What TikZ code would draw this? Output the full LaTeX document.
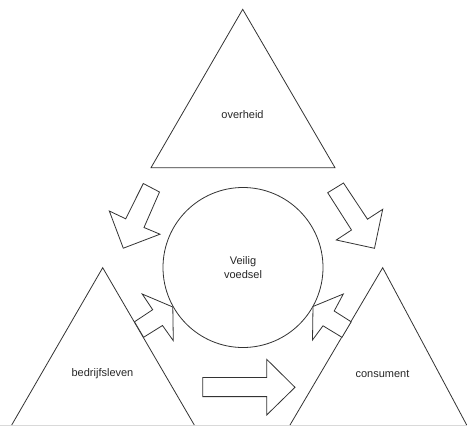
\documentclass[tikz,border=0pt]{standalone}
\usepackage{fontspec}
\setmainfont{Liberation Sans}
\begin{document}
\begin{tikzpicture}[x=1pt,y=-1pt,
  shape line/.style={draw=black!80,line width=0.8pt,line join=miter},
  block arrow/.style={draw=black!80,line width=0.8pt,fill=white,line join=miter},
  label text/.style={font=\fontsize{11}{14.3}\selectfont,text=black!85,align=center,inner sep=0pt}]
\useasboundingbox (0,0) rectangle (467,426);
% faint page edge
\draw[black!15,line width=0.8pt] (0,425.3) -- (467,425.3);
% top triangle
\coordinate (tA) at (242.7,9.3);
\coordinate (tL) at (151,167.7);
\coordinate (tR) at (335,167.7);
\draw[shape line] (tA) -- (tL) -- (tR) -- cycle;
% left triangle
\coordinate (lA) at (102.7,267.7);
\coordinate (lL) at (11.7,425);
\coordinate (lR) at (194.3,425);
\draw[shape line] (lL) -- (lA) -- (lR);
% right triangle
\coordinate (rA) at (382.7,267.7);
\coordinate (rL) at (290,425);
\coordinate (rR) at (466.7,425);
\draw[shape line] (rL) -- (rA) -- (rR);
% circle
\node[draw=black!80,line width=0.8pt,fill=white,circle,minimum size=160pt,inner sep=0pt] (c) at (243,267.5) {};
% block arrows
\draw[block arrow] (143.3,183.5) -- (159.5,192) -- (144,227.5) -- (160,234.2) -- (123.3,248.2) -- (109.3,211) -- (125.7,218.8) -- cycle;
\draw[block arrow] (327.7,192.7) -- (343.5,183) -- (367.5,219.2) -- (382.7,209.3) -- (374.5,248.3) -- (336.3,240) -- (351.5,230) -- cycle;
\draw[block arrow] (142.2,294) -- (172.8,307) -- (173.3,340.7) -- (162.5,325.5) -- (143.6,337.3) -- (134.5,321.8) -- (152.7,309.7) -- cycle;
\draw[block arrow] (343.3,294) -- (313,306.5) -- (312.5,340) -- (323,325.8) -- (342,337.3) -- (351.2,321.8) -- (334.2,311) -- cycle;
\draw[block arrow] (202.7,377.5) -- (266.7,377.5) -- (266.7,359.3) -- (295,387.3) -- (266.7,415) -- (266.7,396.6) -- (202.7,396.6) -- cycle;
% labels
\node[label text] (ov) at (242.5,114.5) {overheid};
\node[label text] (vv) at (243,267.5) {Veilig\\voedsel};
\node[label text] (bl) at (102.5,373.5) {bedrijfsleven};
\node[label text] (cs) at (382.5,373.5) {consument};
\end{tikzpicture}
\end{document}
